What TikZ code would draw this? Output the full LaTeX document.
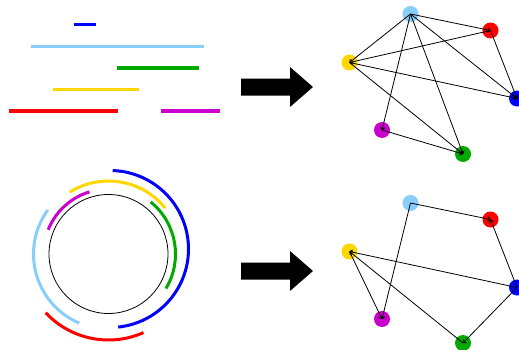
\documentclass[tikz,border=0pt]{standalone}
\usetikzlibrary{arrows.meta,calc}
\definecolor{cblue}{RGB}{0,0,255}
\definecolor{clb}{RGB}{135,206,250}
\definecolor{cgreen}{RGB}{0,170,0}
\definecolor{cyellow}{RGB}{255,215,0}
\definecolor{cred}{RGB}{255,0,0}
\definecolor{cmag}{RGB}{204,0,204}
\begin{document}
\begin{tikzpicture}[x=1pt,y=1pt,
  seg/.style={line width=3.3pt},
  arcseg/.style={line width=3pt},
  vtx/.style={circle,inner sep=0pt,minimum size=16pt,fill=#1},
  edge/.style={line width=0.8pt,-{To[length=3pt,width=5pt]}},
  blockarrow/.style={fill=black}]
\useasboundingbox (0,0) rectangle (519,349);
\clip (0,0) rectangle (519,349);
% intervals
\draw[seg,cblue] (74,324.5) -- (96,324.5);
\draw[seg,clb] (31,302.7) -- (204,302.7);
\draw[seg,cgreen] (117.3,281) -- (199,281);
\draw[seg,cyellow] (53,259.7) -- (139,259.7);
\draw[seg,cred] (9.3,238) -- (117.7,238);
\draw[seg,cmag] (161,238) -- (220.3,238);
% block arrows
\fill[blockarrow] (241,253.5) -- (290,253.5) -- (290,242) -- (313,262) -- (290,282) -- (290,270.5) -- (241,270.5) -- cycle;
\fill[blockarrow] (241,69.5) -- (290,69.5) -- (290,58) -- (313,78) -- (290,98) -- (290,86.5) -- (241,86.5) -- cycle;
% circle and arcs
\coordinate (C) at (108.5,95);
\coordinate (Cb) at (110,100);
\draw[line width=0.8pt] (C) circle[radius=59.5];
\draw[arcseg,cmag] ($(C)+(107:65)$) arc[start angle=107,end angle=158,radius=65];
\draw[arcseg,cgreen] ($(C)+(-31:67)$) arc[start angle=-31,end angle=51,radius=67];
\draw[arcseg,cyellow] ($(C)+(39:73)$) arc[start angle=39,end angle=122,radius=73];
\draw[arcseg,cblue] ($(Cb)+(-84:78.5)$) arc[start angle=-84,end angle=88,radius=78.5];
\draw[arcseg,clb] ($(C)+(144:75)$) arc[start angle=144,end angle=247,radius=75];
\draw[arcseg,cred] ($(C)+(223:86)$) arc[start angle=223,end angle=294,radius=86];
% top graph
\node[vtx=clb] (tlb) at (410.5,335) {};
\node[vtx=cred] (tred) at (490.5,318.5) {};
\node[vtx=cyellow] (tyel) at (349.5,286.5) {};
\node[vtx=cblue] (tblue) at (517,250.5) {};
\node[vtx=cmag] (tmag) at (382,219) {};
\node[vtx=cgreen] (tgreen) at (463,195) {};
\draw[edge] (tlb.center) -- (tred.center);
\draw[edge] (tlb.center) -- (tyel.center);
\draw[edge] (tlb.center) -- (tblue.center);
\draw[edge] (tlb.center) -- (tgreen.center);
\draw[edge] (tlb.center) -- (tmag.center);
\draw[edge] (tred.center) -- (tyel.center);
\draw[edge] (tred.center) -- (tblue.center);
\draw[edge] (tyel.center) -- (tblue.center);
\draw[edge] (tyel.center) -- (tgreen.center);
\draw[edge] (tmag.center) -- (tgreen.center);
% bottom graph
\node[vtx=clb] (blb) at (410.5,146) {};
\node[vtx=cred] (bred) at (490.5,129.5) {};
\node[vtx=cyellow] (byel) at (349.5,97.5) {};
\node[vtx=cblue] (bblue) at (517,61.5) {};
\node[vtx=cmag] (bmag) at (382,30) {};
\node[vtx=cgreen] (bgreen) at (463,6) {};
\draw[edge] (blb.center) -- (bred.center);
\draw[edge] (blb.center) -- (bmag.center);
\draw[edge] (bblue.center) -- (bred.center);
\draw[edge] (bblue.center) -- (byel.center);
\draw[edge] (bblue.center) -- (bgreen.center);
\draw[edge] (byel.center) -- (bmag.center);
\draw[edge] (bgreen.center) -- (byel.center);
\end{tikzpicture}
\end{document}
